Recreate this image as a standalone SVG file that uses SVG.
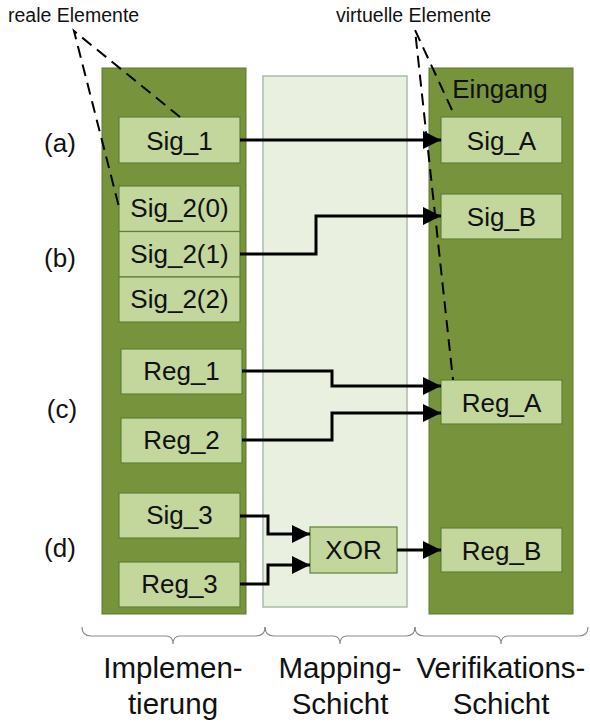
<svg xmlns="http://www.w3.org/2000/svg" width="590" height="724" viewBox="0 0 590 724">
  <defs>
    <style>
      .col { fill: #77933C; stroke: #5B7A2C; stroke-width: 1; }
      .map { fill: #EAF0DF; stroke: #A9BDAA; stroke-width: 1.5; }
      .box { fill: #C3D69B; stroke: #5E8038; stroke-width: 1.2; }
      .t { font-family: "Liberation Sans", Arial, sans-serif; fill: #111; text-anchor: middle; }
      .lbl { font-size: 26px; }
      .side { font-size: 26px; }
      .note { font-family: "Liberation Sans", Arial, sans-serif; font-size: 19.5px; fill: #111; }
      .foot { font-size: 29.5px; }
      .wire { fill: none; stroke: #000; stroke-width: 3; marker-end: url(#arrow); }
      .dash { fill: none; stroke: #000; stroke-width: 2; stroke-dasharray: 12 7; }
      .brace { fill: none; stroke: #8A8A8A; stroke-width: 1.2; }
    </style>
    <marker id="arrow" markerUnits="userSpaceOnUse" markerWidth="18" markerHeight="18" refX="18" refY="9" orient="auto">
      <path d="M0,0 L18,9 L0,18 Z" fill="#000"/>
    </marker>
  </defs>

  <!-- layer columns -->
  <g id="implementierung">
    <rect class="col" x="102" y="68" width="144" height="546"/>
  </g>
  <g id="mapping">
    <rect class="map" x="263" y="76" width="144" height="531"/>
  </g>
  <g id="verifikation">
    <rect class="col" x="429" y="68" width="144" height="546"/>
    <text class="t side" x="500" y="98">Eingang</text>
  </g>

  <!-- row labels -->
  <g id="row-labels" class="t side">
    <text x="60" y="152">(a)</text>
    <text x="60" y="267">(b)</text>
    <text x="62" y="418">(c)</text>
    <text x="60" y="557">(d)</text>
  </g>

  <!-- implementation elements -->
  <g id="sig1"><rect class="box" x="119" y="117" width="121" height="46"/><text class="t lbl" x="179.5" y="150">Sig_1</text></g>
  <g id="sig2-0"><rect class="box" x="119" y="186" width="121" height="45.5"/><text class="t lbl" x="179.5" y="217">Sig_2(0)</text></g>
  <g id="sig2-1"><rect class="box" x="119" y="231.5" width="121" height="45.5"/><text class="t lbl" x="179.5" y="263">Sig_2(1)</text></g>
  <g id="sig2-2"><rect class="box" x="119" y="277" width="121" height="45"/><text class="t lbl" x="179.5" y="308">Sig_2(2)</text></g>
  <g id="reg1"><rect class="box" x="121" y="349" width="121" height="45"/><text class="t lbl" x="181.5" y="380">Reg_1</text></g>
  <g id="reg2"><rect class="box" x="121" y="418" width="121" height="45"/><text class="t lbl" x="181.5" y="449">Reg_2</text></g>
  <g id="sig3"><rect class="box" x="119" y="493" width="121" height="45"/><text class="t lbl" x="179.5" y="524">Sig_3</text></g>
  <g id="reg3"><rect class="box" x="119" y="562" width="121" height="45"/><text class="t lbl" x="179.5" y="593">Reg_3</text></g>

  <!-- mapping element -->
  <g id="xor"><rect class="box" x="310" y="527" width="87" height="46"/><text class="t lbl" x="353.5" y="559">XOR</text></g>

  <!-- verification elements -->
  <g id="sigA"><rect class="box" x="441" y="117" width="121" height="46"/><text class="t lbl" x="501.5" y="150">Sig_A</text></g>
  <g id="sigB"><rect class="box" x="441" y="194" width="121" height="45"/><text class="t lbl" x="501.5" y="226">Sig_B</text></g>
  <g id="regA"><rect class="box" x="441" y="380" width="121" height="44"/><text class="t lbl" x="501.5" y="412">Reg_A</text></g>
  <g id="regB"><rect class="box" x="441" y="528" width="121" height="44"/><text class="t lbl" x="501.5" y="560">Reg_B</text></g>

  <!-- connectors -->
  <g id="connectors">
    <path class="wire" d="M240,140 H441"/>
    <path class="wire" d="M240,254 H316 V216 H441"/>
    <path class="wire" d="M242,371 H332 V386 H441"/>
    <path class="wire" d="M242,440 H332 V413 H441"/>
    <path class="wire" d="M240,516 H268 V534 H310"/>
    <path class="wire" d="M240,584 H268 V565 H310"/>
    <path class="wire" d="M397,550 H441"/>
  </g>

  <!-- callouts -->
  <g id="callout-real">
    <text class="note" x="8" y="22">reale Elemente</text>
    <path class="dash" d="M180,117 L74,31 L119,207"/>
  </g>
  <g id="callout-virtual">
    <text class="note" x="336" y="22">virtuelle Elemente</text>
    <path class="dash" d="M452,110 L415,30 L453,380"/>
  </g>

  <!-- braces and layer captions -->
  <g id="braces">
    <path class="brace" d="M82,627 Q82,636 91,636 H166 Q173,636 173,644 Q173,636 180,636 H256 Q265,636 265,627"/>
    <path class="brace" d="M265,627 Q265,636 274,636 H333 Q340,636 340,644 Q340,636 347,636 H406 Q415,636 415,627"/>
    <path class="brace" d="M415,627 Q415,636 424,636 H494 Q501,636 501,644 Q501,636 508,636 H579 Q588,636 588,627"/>
  </g>
  <g id="captions" class="t foot">
    <text x="173" y="678">Implemen-</text>
    <text x="173" y="714">tierung</text>
    <text x="340" y="678">Mapping-</text>
    <text x="340" y="714">Schicht</text>
    <text x="501" y="678">Verifikations-</text>
    <text x="501" y="714">Schicht</text>
  </g>
</svg>
